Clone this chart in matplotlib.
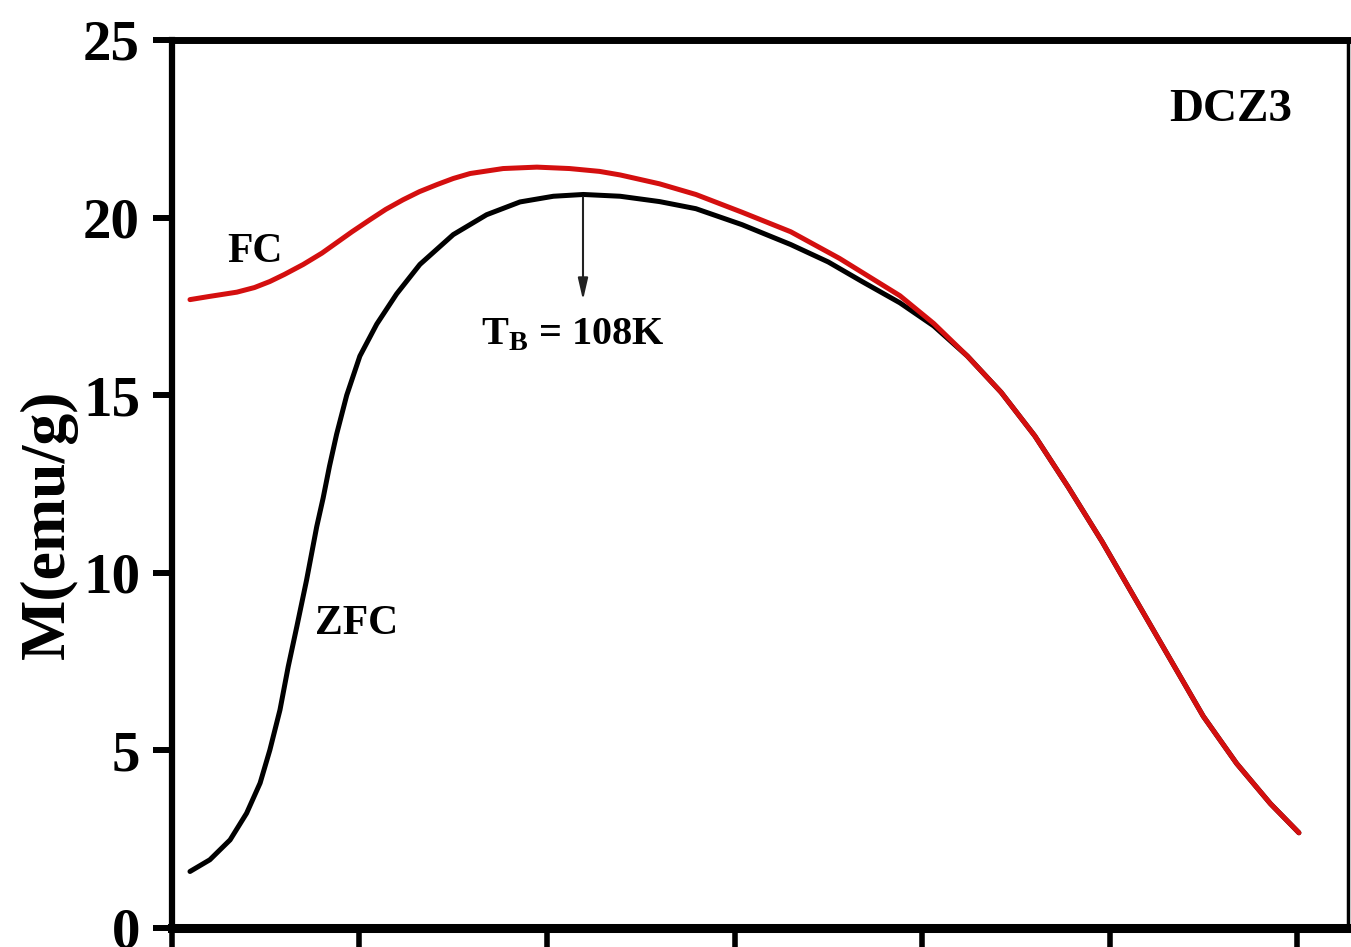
"""Curvas ZFC / FC da amostra DCZ3 (M x T)."""
import matplotlib

matplotlib.use("Agg")
import matplotlib.pyplot as plt  # noqa: E402

# ──────────────────────────────────────────────────────────────────
# Dados (T em K, M em emu/g)
# ──────────────────────────────────────────────────────────────────
zfc_T = [4.8, 10.1, 15.5, 19.9, 23.5, 26.1, 28.8, 31.0, 33.3, 35.9, 38.6, 40.3, 42.0,
         43.9, 46.6, 50.1, 54.6, 59.9, 66.1, 75.0, 83.9, 92.8, 101.7, 109.7, 119.5,
         130, 139.7, 152, 165, 175, 184, 194.1, 203.1, 212.1, 221.1, 230.1, 239.0,
         248.0, 257.0, 266.0, 275.0, 283.9, 292.9, 300.5]
zfc_M = [1.59, 1.92, 2.48, 3.23, 4.08, 5.01, 6.14, 7.36, 8.49, 9.8, 11.3, 12.1, 13.0,
         13.9, 15.0, 16.1, 17.0, 17.85, 18.68, 19.52, 20.08, 20.44, 20.6, 20.65, 20.6,
         20.45, 20.25, 19.8, 19.24, 18.75, 18.2, 17.6, 16.95, 16.1, 15.08, 13.85, 12.41,
         10.88, 9.24, 7.6, 5.96, 4.63, 3.5, 2.68]

fc_T = [4.8, 10, 17.3, 22, 26.1, 30, 35, 40, 44, 48, 52.8, 57, 61.6, 66, 70.7, 75,
        79.5, 88.3, 97.3, 106, 114, 119.5, 130, 139.7, 152, 165, 178, 194.1, 203.1,
        212.1, 221.1, 230.1, 239.0, 248.0, 257.0, 266.0, 275.0, 283.9, 292.9, 300.5]
fc_M = [17.69, 17.78, 17.9, 18.03, 18.2, 18.4, 18.68, 19.0, 19.3, 19.6, 19.94, 20.23,
        20.5, 20.73, 20.93, 21.1, 21.24, 21.38, 21.42, 21.38, 21.3, 21.2, 20.95,
        20.65, 20.15, 19.6, 18.85, 17.8, 17.02, 16.1, 15.08, 13.85, 12.41, 10.88,
        9.24, 7.6, 5.96, 4.63, 3.5, 2.68]

x_ticks = [0, 50, 100, 150, 200, 250, 300]
y_ticks = [0, 5, 10, 15, 20, 25]
T_B = 109.6  # posição do pico da ZFC
T_B_label = r"T$_{\mathbf{B}}$ = 108K"

plt.rcParams["font.family"] = ["Liberation Serif", "DejaVu Serif"]
plt.rcParams["font.weight"] = "bold"
plt.rcParams["mathtext.fontset"] = "custom"
plt.rcParams["mathtext.rm"] = "Liberation Serif:bold"
plt.rcParams["mathtext.bf"] = "Liberation Serif:bold"

fig = plt.figure(figsize=(13.51, 9.47), dpi=100)
ax = fig.add_axes([0.1273, 0.0201, 0.8705, 0.9377])

ax.plot(zfc_T, zfc_M, color="black", lw=3.6, solid_capstyle="round",
        solid_joinstyle="round", zorder=2)
ax.plot(fc_T, fc_M, color="#d40f0f", lw=3.6, solid_capstyle="round",
        solid_joinstyle="round", zorder=3)

ax.set_xlim(0, 313.6)
ax.set_ylim(0, 25)
ax.set_xticks(x_ticks)
ax.set_yticks(y_ticks)
ax.tick_params(axis="y", direction="out", length=14, width=4.3, labelsize=41, pad=9)
ax.tick_params(axis="x", direction="out", length=16, width=4, labelbottom=False)
ax.set_ylabel("M(emu/g)", fontsize=46, fontweight="bold")
ax.yaxis.set_label_coords(-0.080, 0.454)

for side, lw in {"left": 4.5, "bottom": 6.5, "top": 5, "right": 2.5}.items():
    ax.spines[side].set_linewidth(lw)

# anotações
ax.text(22.1, 19.04, "FC", fontsize=30, ha="center", va="center")
ax.text(49.3, 8.56, "ZFC", fontsize=30, ha="center", va="center")
ax.text(282.4, 23.04, "DCZ3", fontsize=34, ha="center", va="center")
ax.annotate("", xy=(T_B, 17.6), xytext=(T_B, 20.65),
            arrowprops=dict(arrowstyle="-|>,head_width=0.3,head_length=1.3",
                            color="#222222", lw=1.5))
ax.text(T_B - 2.8, 16.7, T_B_label, fontsize=29, ha="center", va="center")

fig.savefig("out.png", dpi=100)
plt.close(fig)
